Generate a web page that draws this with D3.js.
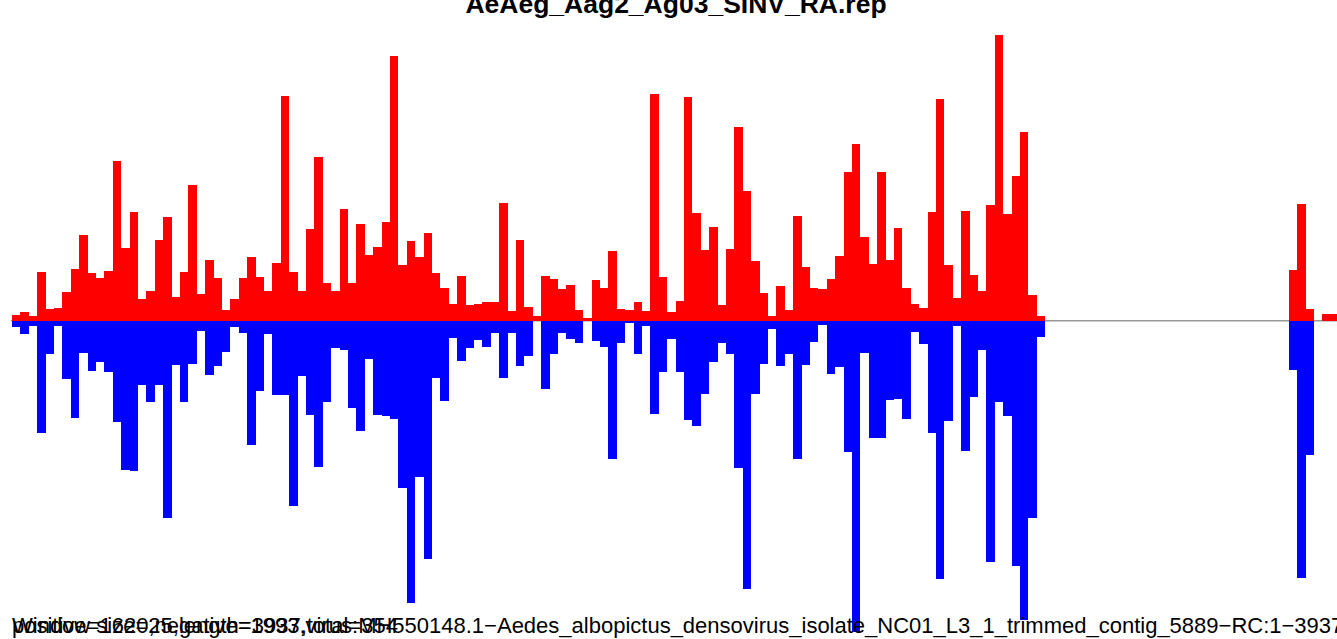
<!doctype html>
<html>
  <head>
    <script src="https://cdn.jsdelivr.net/npm/d3@7"></script>
    <style>
      body, html {
        margin: 0;
        background: #fff;
        overflow: hidden;
      }
      svg {
        position: absolute;
        width: 1337px;
        height: 639px;
      }
      rect.pos {
        fill: #FF0000;
      }
      rect.neg {
        fill: #0000FF;
      }
      line.zero {
        stroke: #999;
        stroke-width: 1.5px;
      }
      text {
        font-family: "Liberation Sans", Arial, Helvetica, sans-serif;
        fill: #000;
      }
    </style>
  </head>
  <body>
    <svg width="1337" height="639"></svg>
    <script>

      var windowSize = 25;
      var seqLength = 3937;
      var titleText = "AeAeg_Aag2_Ag03_SINV_RA.rep";
      var infoText = "Window size=25,length=3937,total=354";
      var virusText = "positive=1620,negative=1993,virus:MH550148.1\u2212Aedes_albopictus_densovirus_isolate_NC01_L3_1_trimmed_contig_5889\u2212RC:1\u22123937";

      // reads per 25 nt window, sense strand
      var posValues = [
        5.5, 8.5, 4.5, 48.5, 11.5, 12.5, 28.5, 51.5, 85.5, 47.5,
        42.5, 49.5, 159.5, 72.5, 108.5, 21.5, 29.5, 80.5, 103.5, 23.5,
        48.5, 135.5, 26.5, 60.5, 42.5, 10.5, 21.5, 42.5, 63.5, 43.5,
        29.5, 57.5, 224.5, 48.5, 29.5, 91.5, 163.5, 37.5, 29.5, 111.5,
        37.5, 96.5, 65.5, 73.5, 98.5, 264.5, 55.5, 79.5, 63.5, 87.5,
        47.5, 32.5, 16.5, 44.5, 15.5, 16.5, 18.5, 18.5, 117.5, 9.5,
        80.5, 13.5, 4.5, 44.5, 41.5, 31.5, 35.5, 10.5, 2.5, 40.5,
        32.5, 69.5, 11.5, 10.5, 18.5, 9.5, 226.5, 43.5, 8.5, 19.5,
        223.5, 107.5, 70.5, 93.5, 15.5, 71.5, 193.5, 129.5, 59.5, 27.5,
        4.5, 34.5, 10.5, 104.5, 53.5, 32.5, 31.5, 41.5, 64.5, 148.5,
        176.5, 83.5, 56.5, 148.5, 60.5, 92.5, 32.5, 16.5, 12.5, 108.5,
        221.5, 55.5, 22.5, 109.5, 45.5, 29.5, 115.5, 285.5, 106.5, 144.5,
        188.5, 25.5, 4.5, 0, 0, 0, 0, 0, 0, 0,
        0, 0, 0, 0, 0, 0, 0, 0, 0, 0,
        0, 0, 0, 0, 0, 0, 0, 0, 0, 0,
        0, 0, 50.5, 116.5, 11.5, 0, 6.5, 6.5
      ];

      // antisense strand (drawn below zero)
      var negValues = [
        6.5, 13.5, 5.5, 112.5, 33.5, 5.5, 58.5, 97.5, 32.5, 50.5,
        41.5, 51.5, 101.5, 149.5, 150.5, 64.5, 81.5, 64.5, 197.5, 44.5,
        81.5, 43.5, 10.5, 54.5, 45.5, 31.5, 6.5, 12.5, 124.5, 70.5,
        13.5, 74.5, 74.5, 185.5, 55.5, 94.5, 146.5, 81.5, 27.5, 29.5,
        87.5, 110.5, 38.5, 94.5, 95.5, 98.5, 167.5, 282.5, 156.5, 238.5,
        57.5, 80, 17.5, 40.5, 27.5, 19.5, 26.5, 12.5, 57.5, 12.5,
        45.5, 35.5, 0, 68.5, 33.5, 12.5, 18.5, 22.5, 0, 20.5,
        26.5, 138.5, 22.5, 2.5, 33.5, 5.5, 93.5, 51.5, 18.5, 51.5,
        99.5, 105.5, 73.5, 41.5, 22.5, 33.5, 147.5, 268.5, 73.5, 43.5,
        8.5, 45.5, 33.5, 138.5, 44.5, 21.5, 4.5, 53.5, 46.5, 131.5,
        311.5, 32.5, 117.5, 117.5, 79.5, 78.5, 98.5, 11.5, 23.5, 112.5,
        258.5, 100.5, 5.5, 130.5, 76.5, 29.5, 241.5, 81.5, 95.5, 245.5,
        299.5, 197.5, 16.5, 0, 0, 0, 0, 0, 0, 0,
        0, 0, 0, 0, 0, 0, 0, 0, 0, 0,
        0, 0, 0, 0, 0, 0, 0, 0, 0, 0,
        0, 0, 49.5, 257.5, 134.5, 0, 0, 0
      ];

      var svg = d3.select("svg");

      var x = d3.scaleLinear()
        .domain([0, seqLength])
        .range([12, 12 + seqLength * 0.336]);

      var y = d3.scaleLinear()
        .domain([-320, 320])
        .range([640.75, 0.75]);

      svg.append("line")
        .attr("class", "zero")
        .attr("x1", 11)
        .attr("x2", 1337)
        .attr("y1", y(0))
        .attr("y2", y(0));

      svg.append("g").selectAll("rect")
        .data(posValues)
        .enter().append("rect")
        .attr("class", "pos")
        .attr("shape-rendering", "crispEdges")
        .attr("x", (d, i) => x(i * windowSize))
        .attr("width", (d, i) => x((i + 1) * windowSize) - x(i * windowSize))
        .attr("y", d => y(d))
        .attr("height", d => y(0) - y(d));

      svg.append("g").selectAll("rect")
        .data(negValues)
        .enter().append("rect")
        .attr("class", "neg")
        .attr("shape-rendering", "crispEdges")
        .attr("x", (d, i) => x(i * windowSize))
        .attr("width", (d, i) => x((i + 1) * windowSize) - x(i * windowSize))
        .attr("y", y(0))
        .attr("height", d => y(-d) - y(0));

      svg.append("text")
        .attr("x", 676)
        .attr("y", 12.5)
        .attr("text-anchor", "middle")
        .style("font-weight", "bold")
        .style("font-size", "26.5px")
        .text(titleText);

      svg.append("text")
        .attr("x", 12)
        .attr("y", 633)
        .style("font-size", "22px")
        .text(infoText);

      svg.append("text")
        .attr("x", 12)
        .attr("y", 633)
        .style("font-size", "22px")
        .text(virusText);

    </script>
  </body>
</html>
